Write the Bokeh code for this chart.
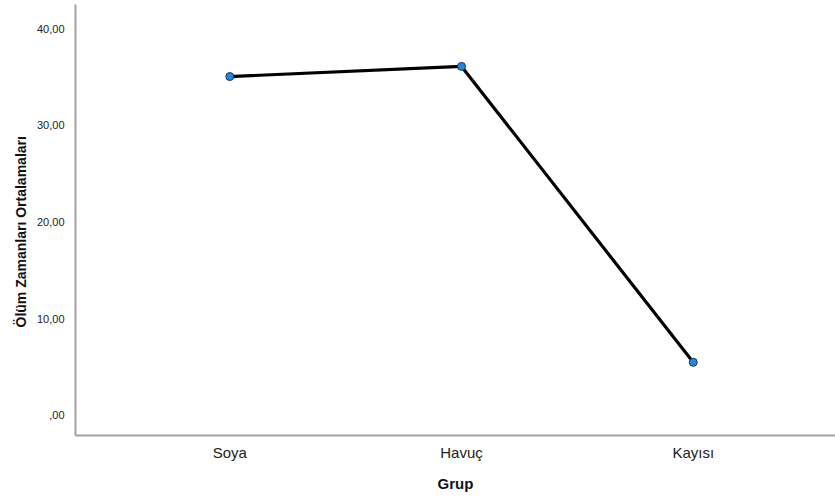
from bokeh.plotting import figure
from bokeh.models import Range1d, FixedTicker, Title, ColumnDataSource
from bokeh.embed import file_html
from bokeh.resources import INLINE

categories = ["Soya", "Havuç", "Kayısı"]
means = [35.05, 36.1, 5.5]
y_ticks = [0, 10, 20, 30, 40]
y_tick_labels = [",00", "10,00", "20,00", "30,00", "40,00"]
x_title = "Grup"
y_title = "Ölüm Zamanları Ortalamaları"

xs = list(range(len(categories)))
src = ColumnDataSource(dict(x=xs, y=means, cat=categories))

p = figure(width=835, height=499, output_backend="svg", toolbar_location=None,
           x_range=Range1d(-0.666, 2.614), y_range=Range1d(-2.07, 42.5),
           min_border_left=75, min_border_right=0, min_border_top=4, min_border_bottom=64)
p.outline_line_color = None
p.xgrid.visible = False
p.ygrid.visible = False
p.background_fill_color = "white"

p.line("x", "y", source=src, line_color="black", line_width=3.2)
p.scatter("x", "y", source=src, size=8, fill_color="#1e88e5", line_color="#1a3550", line_width=1)

for ax in (p.xaxis[0], p.yaxis[0]):
    ax.axis_line_color = "#a0a0a0"
    ax.axis_line_width = 2
    ax.major_tick_line_color = None
    ax.minor_tick_line_color = None

p.xaxis.ticker = FixedTicker(ticks=xs)
p.xaxis.major_label_overrides = {i: c for i, c in zip(xs, categories)}
p.xaxis.major_label_text_font = "Liberation Sans"
p.xaxis.major_label_text_font_size = "15px"
p.xaxis.major_label_text_color = "#222222"
p.xaxis.major_label_standoff = 2
p.xaxis.axis_label = x_title
p.xaxis.axis_label_text_font = "Liberation Sans"
p.xaxis.axis_label_text_font_style = "bold"
p.xaxis.axis_label_text_font_size = "15px"
p.xaxis.axis_label_text_color = "#111111"
p.xaxis.axis_label_standoff = 11

p.yaxis.ticker = FixedTicker(ticks=y_ticks)
p.yaxis.major_label_overrides = {t: l for t, l in zip(y_ticks, y_tick_labels)}
p.yaxis.major_label_text_font = "Liberation Sans"
p.yaxis.major_label_text_font_size = "11px"
p.yaxis.major_label_text_color = "#222222"
p.yaxis.major_label_standoff = 5

ytitle = Title(text=y_title, align="left", offset=108,
               text_font="Liberation Sans", text_font_style="bold",
               text_font_size="14px", text_color="#111111")
p.add_layout(ytitle, "left")

open("out.html", "w").write(file_html(p, INLINE))
